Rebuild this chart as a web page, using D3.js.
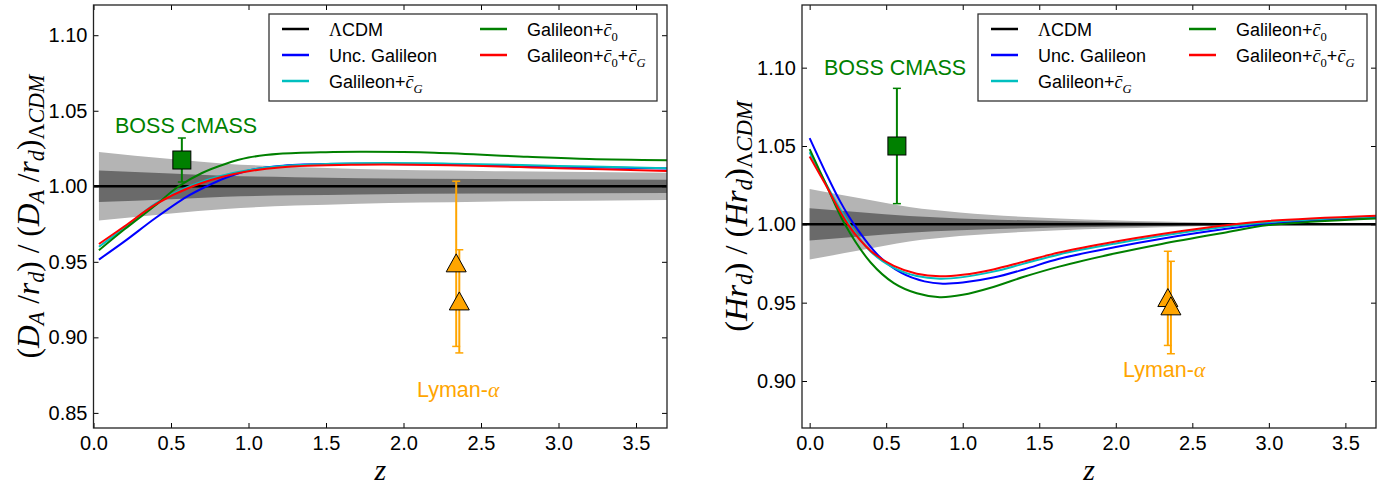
<!DOCTYPE html>
<html><head><meta charset="utf-8">
<script src="https://cdn.jsdelivr.net/npm/d3@7"></script>
<style>body{margin:0;background:#fff} svg{display:block}</style>
</head><body>
<svg id="c" width="1395" height="488"></svg>
<script>
// ---------------- DATA ----------------
const xTicks = [0.0, 0.5, 1.0, 1.5, 2.0, 2.5, 3.0, 3.5];
const leftYTicks = [0.85, 0.90, 0.95, 1.00, 1.05, 1.10];
const rightYTicks = [0.90, 0.95, 1.00, 1.05, 1.10];
const legendLabels = ["ΛCDM", "Unc. Galileon", "Galileon+c̄G", "Galileon+c̄0", "Galileon+c̄0+c̄G"];
const seriesColors = ["#000000", "#0000ff", "#00bfbf", "#008000", "#ff0000"];

// Left panel: (D_A/r_d)/(D_A/r_d)_LCDM   [z, value]
const leftBlue  = [[0.035,0.9515],[0.2,0.9635],[0.4,0.979],[0.6,0.993],[0.73,1.000],[0.85,1.0055],[1.0,1.0105],[1.2,1.0135],[1.5,1.0148],[1.9,1.0148],[2.5,1.014],[3.0,1.013],[3.7,1.0117]];
const leftCyan  = [[0.035,0.960],[0.2,0.9725],[0.4,0.9885],[0.62,1.000],[0.9,1.0088],[1.2,1.0132],[1.7,1.0152],[2.3,1.015],[3.0,1.0135],[3.7,1.012]];
const leftGreen = [[0.035,0.9576],[0.2,0.9715],[0.4,0.9875],[0.55,1.000],[0.7,1.0088],[0.85,1.0148],[1.0,1.019],[1.2,1.0215],[1.5,1.0226],[1.76,1.0228],[2.2,1.0222],[2.8,1.0195],[3.2,1.018],[3.7,1.0172]];
const leftRed   = [[0.035,0.9618],[0.2,0.9735],[0.4,0.988],[0.64,1.000],[0.9,1.008],[1.2,1.0125],[1.7,1.0143],[2.3,1.014],[3.0,1.012],[3.7,1.0101]];
// band half-widths [z, 1sigma, 2sigma]
const leftBand  = [[0.035,0.0104,0.0227],[0.5,0.0085,0.018],[0.85,0.0069,0.015],[1.3,0.006,0.0128],[1.71,0.0054,0.0115],[2.5,0.0048,0.0102],[3.7,0.0044,0.009]];
// points [z, value, errLow, errHigh]
const leftBoss  = [[0.57,1.0174,1.0029,1.032]];
const leftLya   = [[2.34,0.948,0.894,1.0033],[2.36,0.9228,0.8897,0.958]];

// Right panel: (H r_d)/(H r_d)_LCDM
const rightBlue  = [[0,1.055],[0.1,1.034],[0.2,1.0145],[0.29,1.000],[0.45,0.980],[0.6,0.969],[0.75,0.9636],[0.87,0.9621],[1.0,0.9628],[1.2,0.966],[1.4,0.9712],[1.63,0.978],[2.0,0.9855],[2.3,0.9908],[2.7,0.9968],[3.0,1.0003],[3.7,1.0045]];
const rightCyan  = [[0,1.046],[0.1,1.027],[0.26,1.000],[0.4,0.9825],[0.55,0.9722],[0.7,0.967],[0.85,0.9653],[1.0,0.9663],[1.2,0.9698],[1.4,0.9749],[1.63,0.9808],[2.0,0.9878],[2.3,0.9927],[2.7,0.9983],[3.0,1.0014],[3.7,1.005]];
const rightGreen = [[0,1.048],[0.1,1.027],[0.23,1.000],[0.4,0.9755],[0.55,0.9625],[0.7,0.956],[0.85,0.9535],[1.0,0.955],[1.2,0.960],[1.4,0.9665],[1.63,0.973],[2.0,0.9815],[2.3,0.9875],[2.7,0.9945],[3.0,0.9995],[3.7,1.0038]];
const rightRed   = [[0,1.0433],[0.1,1.026],[0.25,1.000],[0.4,0.983],[0.55,0.9735],[0.7,0.9685],[0.85,0.9668],[1.0,0.9678],[1.2,0.9712],[1.4,0.9762],[1.63,0.982],[2.0,0.989],[2.3,0.9938],[2.7,0.9992],[3.0,1.0022],[3.7,1.0055]];
const rightBand  = [[0,0.0103,0.0225],[0.33,0.0077,0.0166],[0.65,0.0053,0.011],[0.98,0.0038,0.0075],[1.63,0.0021,0.0038],[2.3,0.001,0.0018],[3.0,0.0003,0.0005],[3.7,0.0001,0.0002]];
const rightBoss  = [[0.57,1.050,1.0132,1.0868]];
const rightLya   = [[2.34,0.952,0.9227,0.9828],[2.36,0.9467,0.9174,0.9764]];

// ---------------- DRAW ----------------
const svg = d3.select('#c');
const SANS = "'Liberation Sans', Arial, sans-serif";
const SERIF = "'Liberation Serif', 'DejaVu Serif', serif";

function mathText(sel, parts, size, shift) {
  const sh = (shift === undefined ? 0.28 : shift) * size;
  let sub = false;
  parts.forEach(p => {
    const ts = sel.append('tspan').text(p.t);
    ts.attr('font-family', p.f || SERIF);
    if (p.i) ts.attr('font-style', 'italic'); else ts.attr('font-style', 'normal');
    if (p.sub) {
      ts.attr('font-size', size * 0.7);
      if (!sub) { ts.attr('dy', sh); sub = true; }
    } else {
      ts.attr('font-size', size);
      if (sub) { ts.attr('dy', -sh); sub = false; }
    }
  });
}

const legendParts = [
  [{t:'Λ'}, {t:'CDM', f:SANS}],
  [{t:'Unc. Galileon', f:SANS}],
  [{t:'Galileon+', f:SANS}, {t:'c̄', i:true}, {t:'G', i:true, sub:true}],
  [{t:'Galileon+', f:SANS}, {t:'c̄', i:true}, {t:'0', sub:true}],
  [{t:'Galileon+', f:SANS}, {t:'c̄', i:true}, {t:'0', sub:true}, {t:'+', f:SANS}, {t:'c̄', i:true}, {t:'G', i:true, sub:true}]
];

function panel(cfg) {
  const g = svg.append('g');
  const x = d3.scaleLinear().domain(cfg.xDomain).range([cfg.left, cfg.right]);
  const y = d3.scaleLinear().domain(cfg.yDomain).range([cfg.bottom, cfg.top]);
  const clipId = 'clip' + cfg.id;
  svg.append('clipPath').attr('id', clipId).append('rect')
    .attr('x', cfg.left).attr('y', cfg.top).attr('width', cfg.right - cfg.left).attr('height', cfg.bottom - cfg.top);
  const plot = g.append('g').attr('clip-path', `url(#${clipId})`);

  const smooth = d3.curveCatmullRom.alpha(0.5);
  // bands
  const area2 = d3.area().x(d => x(d[0])).y0(d => y(1 - d[2])).y1(d => y(1 + d[2])).curve(d3.curveMonotoneX);
  const area1 = d3.area().x(d => x(d[0])).y0(d => y(1 - d[1])).y1(d => y(1 + d[1])).curve(d3.curveMonotoneX);
  plot.append('path').datum(cfg.band).attr('d', area2).attr('fill', '#b4b4b4');
  plot.append('path').datum(cfg.band).attr('d', area1).attr('fill', '#6a6a6a');

  // LCDM line
  plot.append('line').attr('x1', x(cfg.xDomain[0])).attr('x2', x(cfg.xDomain[1]))
    .attr('y1', y(1)).attr('y2', y(1)).attr('stroke', seriesColors[0]).attr('stroke-width', 2.5);

  const line = d3.line().x(d => x(d[0])).y(d => y(d[1])).curve(smooth);
  cfg.curves.forEach((c, i) => {
    plot.append('path').datum(c).attr('d', line).attr('fill', 'none')
      .attr('stroke', seriesColors[i + 1]).attr('stroke-width', 2);
  });

  // error bars + markers
  function errbars(data, color) {
    data.forEach(d => {
      const px = x(d[0]);
      plot.append('line').attr('x1', px).attr('x2', px).attr('y1', y(d[2])).attr('y2', y(d[3]))
        .attr('stroke', color).attr('stroke-width', 2);
      [d[2], d[3]].forEach(v => plot.append('line').attr('x1', px - 4).attr('x2', px + 4)
        .attr('y1', y(v)).attr('y2', y(v)).attr('stroke', color).attr('stroke-width', 1.5));
    });
  }
  errbars(cfg.lya, '#ffa500');
  errbars(cfg.boss, '#008000');
  cfg.boss.forEach(d => {
    plot.append('rect').attr('x', x(d[0]) - 9).attr('y', y(d[1]) - 9).attr('width', 18).attr('height', 18)
      .attr('fill', '#008000').attr('stroke', '#000').attr('stroke-width', 1);
  });
  cfg.lya.forEach(d => {
    const px = x(d[0]), py = y(d[1]);
    plot.append('path').attr('d', `M${px},${py - 11}L${px + 10},${py + 7}L${px - 10},${py + 7}Z`)
      .attr('fill', '#ffa500').attr('stroke', '#000').attr('stroke-width', 1);
  });

  // axes
  const fmtX = d3.format('.1f'), fmtY = d3.format('.2f');
  const styleAxis = (a) => {
    a.select('.domain').remove();
    a.selectAll('.tick line').attr('stroke', '#000').attr('stroke-width', 1);
    a.selectAll('.tick text').attr('font-family', SANS).attr('font-size', 20).attr('fill', '#000');
  };
  g.append('g').attr('transform', `translate(0,${cfg.bottom})`)
    .call(d3.axisBottom(x).tickValues(xTicks).tickFormat(fmtX).tickSize(-5).tickPadding(8)).call(styleAxis);
  g.append('g').attr('transform', `translate(0,${cfg.top})`)
    .call(d3.axisTop(x).tickValues(xTicks).tickFormat('').tickSize(-5)).call(styleAxis);
  g.append('g').attr('transform', `translate(${cfg.left},0)`)
    .call(d3.axisLeft(y).tickValues(cfg.yTicks).tickFormat(fmtY).tickSize(-5).tickPadding(6)).call(styleAxis);
  g.append('g').attr('transform', `translate(${cfg.right},0)`)
    .call(d3.axisRight(y).tickValues(cfg.yTicks).tickFormat('').tickSize(-5)).call(styleAxis);

  g.append('rect').attr('x', cfg.left).attr('y', cfg.top).attr('width', cfg.right - cfg.left)
    .attr('height', cfg.bottom - cfg.top).attr('fill', 'none').attr('stroke', '#222').attr('stroke-width', 1.3);

  // annotations
  g.append('text').attr('x', cfg.bossLabel[0]).attr('y', cfg.bossLabel[1]).attr('font-family', SANS)
    .attr('font-size', 21.5).attr('fill', '#008000').text('BOSS CMASS');
  const ly = g.append('text').attr('x', cfg.lyaLabel[0]).attr('y', cfg.lyaLabel[1]).attr('fill', '#ffa500');
  mathText(ly, [{t:'Lyman-', f:SANS}, {t:'α', i:true}], 21.5);

  // legend
  const L = cfg.legend;
  g.append('rect').attr('x', L.x).attr('y', L.y).attr('width', L.w).attr('height', L.h)
    .attr('fill', '#fff').attr('stroke', '#333').attr('stroke-width', 1.3);
  const rows = [0, 1, 2, 0, 1], cols = [0, 0, 0, 1, 1];
  legendLabels.forEach((lab, i) => {
    const lx = L.x + 13 + cols[i] * L.colW;
    const ry = L.y + 15 + rows[i] * 26;
    g.append('line').attr('x1', lx).attr('x2', lx + 27).attr('y1', ry).attr('y2', ry)
      .attr('stroke', seriesColors[i]).attr('stroke-width', 2.5);
    const t = g.append('text').attr('x', lx + 47).attr('y', ry + 6.5).attr('fill', '#000');
    mathText(t, legendParts[i], 18);
  });

  // axis labels
  const xl = g.append('text').attr('x', (cfg.left + cfg.right) / 2).attr('y', 480).attr('text-anchor', 'middle');
  mathText(xl, [{t:'z', i:true}], 30);
  const cy = (cfg.top + cfg.bottom) / 2;
  const yl = g.append('text').attr('transform', `translate(${cfg.yLabelX},${cy}) rotate(-90)`)
    .attr('text-anchor', 'middle');
  mathText(yl, cfg.yLabelParts, cfg.yLabelSize, 0.16);
}

panel({
  id: 'L', left: 93.5, right: 667, top: 5, bottom: 428,
  xDomain: [0, 3.7], yDomain: [0.84, 1.12], yTicks: leftYTicks,
  band: leftBand, curves: [leftBlue, leftCyan, leftGreen, leftRed],
  boss: leftBoss, lya: leftLya,
  bossLabel: [115, 133], lyaLabel: [417, 397],
  legend: {x: 269, y: 14, w: 388, h: 87, colW: 198},
  yLabelX: 39, yLabelSize: 31.5,
  yLabelParts: [{t:'('}, {t:'D', i:true}, {t:'A', i:true, sub:true}, {t:' /'}, {t:'r', i:true}, {t:'d', i:true, sub:true},
    {t:') / ('}, {t:'D', i:true}, {t:'A', i:true, sub:true}, {t:' /'}, {t:'r', i:true}, {t:'d', i:true, sub:true},
    {t:')'}, {t:'Λ', sub:true}, {t:'CDM', i:true, sub:true}]
});
panel({
  id: 'R', left: 802, right: 1376, top: 5, bottom: 428,
  xDomain: [-0.05, 3.7], yDomain: [0.87, 1.14], yTicks: rightYTicks,
  band: rightBand, curves: [rightBlue, rightCyan, rightGreen, rightRed],
  boss: rightBoss, lya: rightLya,
  bossLabel: [824, 75], lyaLabel: [1123, 377],
  legend: {x: 978, y: 14, w: 389, h: 87, colW: 198},
  yLabelX: 747, yLabelSize: 32.5,
  yLabelParts: [{t:'('}, {t:'H', i:true}, {t:'r', i:true}, {t:'d', i:true, sub:true}, {t:') / ('}, {t:'H', i:true}, {t:'r', i:true}, {t:'d', i:true, sub:true},
    {t:')'}, {t:'Λ', sub:true}, {t:'CDM', i:true, sub:true}]
});
</script>
</body></html>
